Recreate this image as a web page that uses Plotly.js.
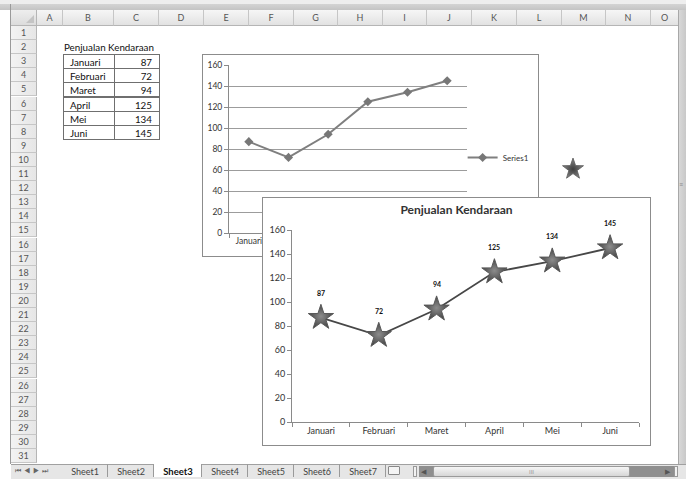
<!DOCTYPE html>
<html>
<head>
<meta charset="utf-8">
<script src="https://cdn.plot.ly/plotly-3.0.1.min.js"></script>
<style>
  html,body{margin:0;padding:0;}
  body{width:686px;height:479px;overflow:hidden;position:relative;background:#fff;font-family:Lato,"Noto Sans",sans-serif;}
  .abs{position:absolute;box-sizing:border-box;}
  .colh{position:absolute;top:10px;height:16px;border-right:1px solid #c6c6c6;border-bottom:1px solid #b5b5b5;background:linear-gradient(#f6f6f6,#e2e2e2);font-size:9px;color:#555;text-align:center;line-height:16px;box-sizing:border-box;}
  .rowh{position:absolute;left:11px;width:26px;border-bottom:1px solid #c6c6c6;border-right:1px solid #b5b5b5;background:linear-gradient(90deg,#f3f3f3,#e6e6e6);font-size:9px;color:#555;text-align:center;box-sizing:border-box;}
  .cell{position:absolute;font-size:9.8px;color:#111;box-sizing:border-box;white-space:nowrap;}
  .tab{position:absolute;top:466px;font-size:9px;color:#444;}
</style>
</head>
<body>
<div id="sheet"></div>
<div id="chart1box" class="abs" style="left:202px;top:54px;width:337px;height:203px;border:1px solid #8c8c8c;background:#fff;z-index:5;overflow:hidden;">
  <div id="chart1"></div>
</div>
<svg class="abs" style="left:561px;top:157px;z-index:6;" width="24" height="24" viewBox="0 0 24 24">
  <defs>
    <radialGradient id="sg" cx="50%" cy="55%" r="55%">
      <stop offset="0%" stop-color="#3e3e3e"/>
      <stop offset="100%" stop-color="#8a8a8a"/>
    </radialGradient>
  </defs>
  <polygon points="12,1 14.6,8.6 22.5,8.7 16.2,13.5 18.5,21.2 12,16.6 5.5,21.2 7.8,13.5 1.5,8.7 9.4,8.6" fill="url(#sg)" stroke="#5a5a5a" stroke-width="0.8"/>
</svg>
<div id="chart2box" class="abs" style="left:262px;top:197px;width:389px;height:249px;border:1px solid #8c8c8c;background:#fff;z-index:10;">
  <div id="chart2"></div>
</div>
<script>
// ---- data ----
const categories = ['Januari','Februari','Maret','April','Mei','Juni'];
const values = [87, 72, 94, 125, 134, 145];
const seriesName = 'Series1';
const tableTitle = 'Penjualan Kendaraan';
const chartTitle = 'Penjualan Kendaraan';
const columnLetters = ['A','B','C','D','E','F','G','H','I','J','K','L','M','N','O'];
const sheetTabs = ['Sheet1','Sheet2','Sheet3','Sheet4','Sheet5','Sheet6','Sheet7'];
const activeTab = 'Sheet3';

// ---- spreadsheet frame ----
const sheet = document.getElementById('sheet');
function add(html){ sheet.insertAdjacentHTML('beforeend', html); }
add('<div class="abs" style="left:0;top:0;width:686px;height:4px;background:#eeeeee"></div>');
add('<div class="abs" style="left:0;top:4px;width:686px;height:6px;background:linear-gradient(#d4d4d4,#c4c4c4)"></div>');
add('<div class="abs" style="left:10px;top:4px;width:1px;height:460px;background:#9a9a9a"></div>');
add('<div class="abs" style="left:11px;top:10px;width:26px;height:16px;background:linear-gradient(#eeeeee,#dcdcdc);border-right:1px solid #b5b5b5;border-bottom:1px solid #b5b5b5"></div>');
add('<svg class="abs" style="left:26px;top:15px" width="8" height="8"><polygon points="8,0 8,8 0,8" fill="#c4c4c4"/></svg>');
const colEdges = [37,63,114,159,204,249,294,338,383,427,472,517,562,606,651,679];
columnLetters.forEach((c,i)=>{
  const x0 = colEdges[i], x1 = colEdges[i+1];
  add(`<div class="colh" style="left:${x0}px;width:${x1-x0}px">${c}</div>`);
});
const rowTop = 26, rowH = 14.1;
for(let r=1;r<=31;r++){
  const y = rowTop + rowH*(r-1);
  add(`<div class="rowh" style="top:${y}px;height:${rowH}px;line-height:${rowH}px">${r}</div>`);
}
add(`<div class="cell" style="left:64px;top:${rowTop+rowH*1}px;height:${rowH}px;line-height:${rowH}px">${tableTitle}</div>`);
categories.forEach((m,i)=>{
  const y = rowTop + rowH*(2+i);
  add(`<div class="cell" style="left:63px;top:${y}px;width:52px;height:${rowH+1}px;line-height:${rowH}px;border:1px solid #6f6f6f;padding-left:6px">${m}</div>`);
  add(`<div class="cell" style="left:114px;top:${y}px;width:46px;height:${rowH+1}px;line-height:${rowH}px;border:1px solid #6f6f6f;text-align:right;padding-right:7px">${values[i]}</div>`);
});
// vertical scrollbar
add('<div class="abs" style="left:678px;top:10px;width:8px;height:454px;background:linear-gradient(90deg,#d8d8d8,#c8c8c8);border-left:1px solid #a8a8a8"></div>');
add('<div class="abs" style="left:679px;top:183px;width:7px;height:10px;color:#888;font-size:7px;line-height:3px">≡</div>');
// tab bar
add('<div class="abs" style="left:11px;top:464px;width:675px;height:15px;background:#e6e6e6;border-top:1px solid #a0a0a0"></div>');
add('<div class="abs" style="left:15px;top:466px;font-size:7px;color:#666;letter-spacing:3px">⏮◀▶⏭</div>');
let tabX = 62;
const tabW = [46,46,48,46,46,46,46];
sheetTabs.forEach((t,i)=>{
  const w = tabW[i];
  const act = t===activeTab;
  add(`<div class="abs" style="left:${tabX}px;top:464px;width:${w}px;height:13px;${act?'background:#fff;':''}border-right:1px solid #9a9a9a;"></div>`);
  add(`<div class="tab" style="left:${tabX}px;width:${w}px;text-align:center;${act?'font-weight:bold;color:#111;font-size:9.5px;':''}">${t}</div>`);
  tabX += w;
});
add(`<div class="abs" style="left:${tabX+2}px;top:466px;width:12px;height:9px;border:1px solid #888;border-radius:1px;background:#f4f4f4"></div>`);
// horizontal scrollbar
add('<div class="abs" style="left:413px;top:466px;width:4px;height:11px;border:1px solid #999;background:#f2f2f2"></div>');
add('<div class="abs" style="left:419px;top:466px;width:258px;height:11px;background:#8f8f8f"></div>');
add('<div class="abs" style="left:421px;top:467px;font-size:7px;color:#555">◀</div>');
add('<div class="abs" style="left:433px;top:466px;width:197px;height:11px;background:linear-gradient(#f6f6f6,#d6d6d6);border:1px solid #9a9a9a;border-radius:2px;font-size:6px;color:#999;text-align:center;line-height:9px">III</div>');
add('<div class="abs" style="left:665px;top:467px;font-size:7px;color:#555">▶</div>');
add('<div class="abs" style="left:674px;top:466px;width:4px;height:11px;border:1px solid #999;background:#f2f2f2"></div>');

// ---- chart 1 (small background chart) ----
const font = 'Lato, "Noto Sans", sans-serif';
Plotly.newPlot('chart1', [{
  x: categories, y: values, name: seriesName, type: 'scatter', mode: 'lines+markers',
  line: {color: '#7f7f7f', width: 2},
  marker: {symbol: 'diamond', size: 7, color: '#777777'},
  showlegend: true
}], {
  width: 335, height: 201,
  margin: {l: 26, r: 71, t: 10, b: 23, pad: 0, autoexpand: false},
  paper_bgcolor: '#fff', plot_bgcolor: '#fff',
  font: {family: font, size: 8.5, color: '#333'},
  xaxis: {type: 'category', range: [-0.5, 5.5], showgrid: false, zeroline: false,
          showline: true, linecolor: '#8a8a8a', ticks: 'outside', tickson: 'boundaries',
          ticklen: 4, tickcolor: '#8a8a8a', tickangle: 0, tickfont: {size: 8.5, color: '#333'}},
  yaxis: {range: [0, 160], dtick: 20, showgrid: true, gridcolor: '#9c9c9c', gridwidth: 1,
          zeroline: false, showline: true, linecolor: '#8a8a8a', ticks: 'outside',
          ticklen: 4, tickcolor: '#8a8a8a', tickfont: {size: 8.5, color: '#333'}},
  legend: {xref: 'container', yref: 'container', x: 0.775, y: 0.49, xanchor: 'left', yanchor: 'middle',
           font: {size: 8, color: '#333'}, bgcolor: 'rgba(0,0,0,0)', itemwidth: 30}
}, {staticPlot: true, displayModeBar: false});

// ---- chart 2 (front chart) ----
Plotly.newPlot('chart2', [{
  x: categories, y: values, type: 'scatter', mode: 'lines+markers',
  line: {color: '#474747', width: 1.8},
  marker: {symbol: 'star', size: 19, color: '#454545',
           gradient: {type: 'radial', color: '#8c8c8c'},
           line: {color: '#5a5a5a', width: 1}},
  showlegend: false
}], {
  width: 387, height: 247,
  margin: {l: 29, r: 11, t: 32, b: 23, pad: 0},
  paper_bgcolor: '#fff', plot_bgcolor: '#fff',
  font: {family: font, size: 9, color: '#333'},
  title: {text: '<b>' + chartTitle + '</b>', x: 0.5, xref: 'container', xanchor: 'center',
          y: 1, yref: 'container', yanchor: 'top', pad: {t: 8},
          font: {family: font, size: 12, color: '#333'}},
  xaxis: {type: 'category', range: [-0.5, 5.5], showgrid: false, zeroline: false,
          showline: true, linecolor: '#8a8a8a', ticks: 'outside', tickson: 'boundaries',
          ticklen: 4, tickcolor: '#8a8a8a', tickangle: 0, tickfont: {size: 9, color: '#333'}},
  yaxis: {range: [0, 160], dtick: 20, showgrid: false, zeroline: false, showline: true,
          linecolor: '#8a8a8a', ticks: 'outside', ticklen: 4, tickcolor: '#8a8a8a',
          tickfont: {size: 9, color: '#333'}},
  annotations: categories.map((c, i) => ({
    x: c, y: values[i], xref: 'x', yref: 'y', text: '<b>' + values[i] + '</b>',
    showarrow: false, yshift: 25, font: {family: font, size: 7, color: '#111'}
  }))
}, {staticPlot: true, displayModeBar: false});
</script>
</body>
</html>
